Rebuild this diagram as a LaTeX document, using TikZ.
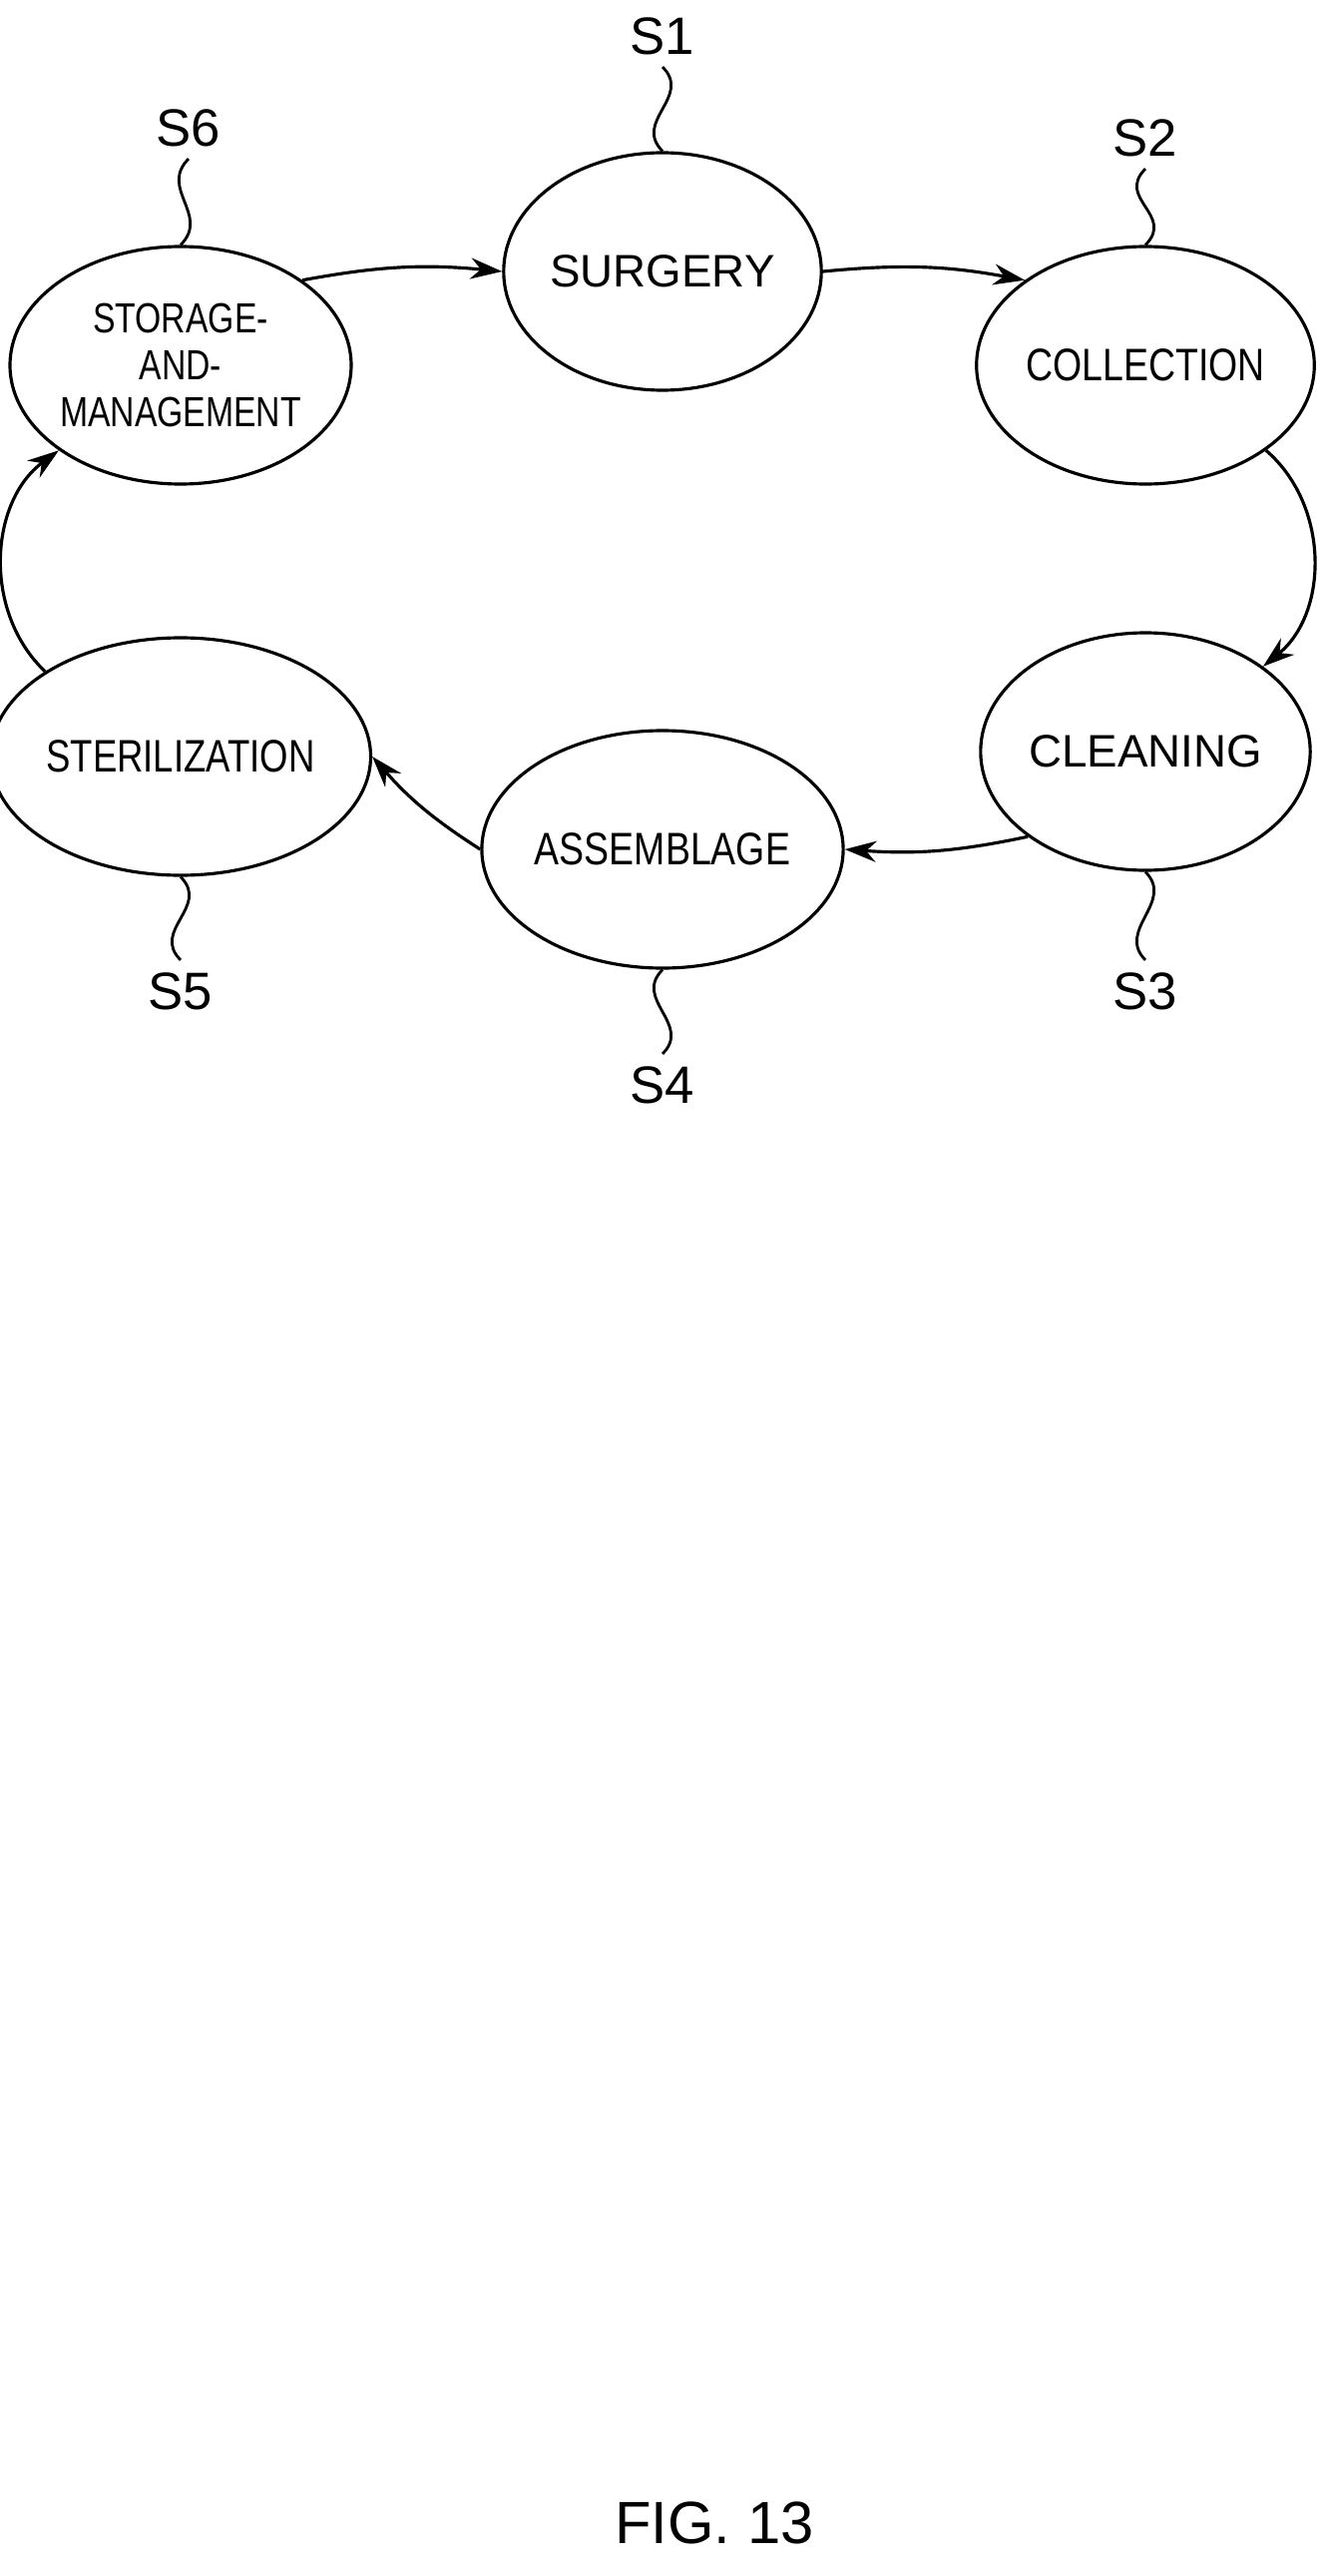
\documentclass[tikz,border=0pt]{standalone}
\usepackage{fontspec}
\setmainfont{Liberation Sans}
\usetikzlibrary{shapes.geometric,arrows.meta}
\tikzset{
  stepnode/.style={draw, line width=0.9pt, ellipse, minimum width=2.52cm, minimum height=2.38cm, inner sep=0pt, font=\fontsize{13}{14}\selectfont},
  steplabel/.style={font=\fontsize{15}{16}\selectfont},
  flow/.style={line width=0.9pt, -{Stealth[length=9pt,width=6pt]}},
  lead/.style={line width=0.8pt}
}
\begin{document}
\begin{tikzpicture}
\useasboundingbox (0,0) rectangle (13.34,-25.81);

% Steps
\node[stepnode] (surg) at (6.64,-2.72) {SURGERY};
\node[stepnode] (coll) at (11.48,-3.66) {\scalebox{0.82}[1]{COLLECTION}};
\node[stepnode] (clean) at (11.48,-7.53) {CLEANING};
\node[stepnode] (assem) at (6.64,-8.51) {\scalebox{0.82}[1]{ASSEMBLAGE}};
\node[stepnode] (steri) at (1.81,-7.58) {\scalebox{0.8}[1]{STERILIZATION}};
\node[stepnode, align=center, font=\fontsize{12}{13.5}\selectfont] (store) at (1.81,-3.66)
  {\scalebox{0.8}[1]{STORAGE-}\\\scalebox{0.8}[1]{AND-}\\\scalebox{0.8}[1]{MANAGEMENT}};

% Step labels
\node[steplabel] (s1) at (6.64,-0.36) {S1};
\node[steplabel] (s2) at (11.48,-1.38) {S2};
\node[steplabel] (s3) at (11.48,-9.93) {S3};
\node[steplabel] (s4) at (6.64,-10.87) {S4};
\node[steplabel] (s5) at (1.81,-9.93) {S5};
\node[steplabel] (s6) at (1.89,-1.28) {S6};

% Leaders
\draw[lead] (s1.south) .. controls +(0.3,-0.3) and +(-0.3,0.3) .. (surg.north);
\draw[lead] (s2.south) .. controls +(-0.3,-0.3) and +(0.3,0.3) .. (coll.north);
\draw[lead] (s3.north) .. controls +(-0.3,0.3) and +(0.3,-0.3) .. (clean.south);
\draw[lead] (s4.north) .. controls +(0.3,0.3) and +(-0.3,-0.3) .. (assem.south);
\draw[lead] (s5.north) .. controls +(-0.3,0.3) and +(0.3,-0.3) .. (steri.south);
\draw[lead] (s6.south) .. controls +(-0.3,-0.3) and +(0.3,0.3) .. (store.north);

% Cycle
\draw[flow] (surg.east) to[bend left=8] (coll.north west);
\draw[flow] (coll.south east) to[bend left=50] (clean.north east);
\draw[flow] (clean.south west) to[bend left=8] (assem.east);
\draw[flow] (assem.west) to[bend left=8] (steri.east);
\draw[flow] (steri.north west) to[bend left=50] (store.south west);
\draw[flow] (store.north east) to[bend left=8] (surg.west);

% Caption
\node[font=\fontsize{17}{18}\selectfont] (fig) at (7.16,-25.28) {FIG. 13};
\end{tikzpicture}
\end{document}
